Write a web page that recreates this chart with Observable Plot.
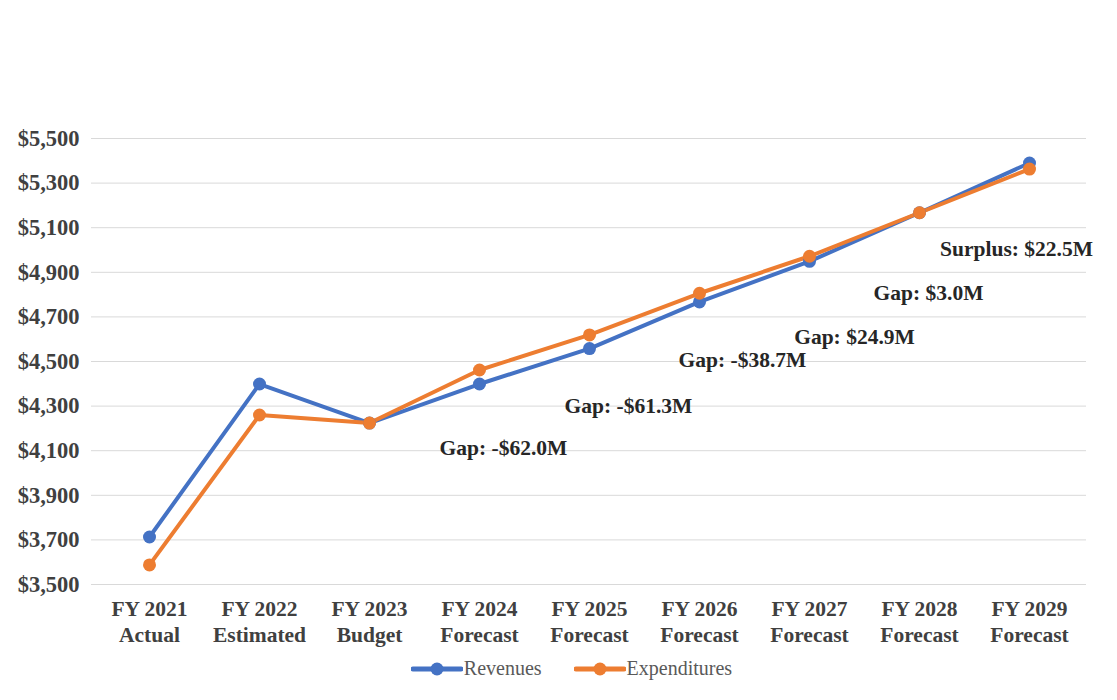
<!DOCTYPE html>
<html>
<head>
<meta charset="utf-8">
<script src="https://cdn.jsdelivr.net/npm/d3@7"></script>
<script src="https://cdn.jsdelivr.net/npm/@observablehq/plot@0.6"></script>
<style>
  body { margin: 0; background: #fff; }
  #wrap { position: relative; width: 1117px; height: 700px; overflow: hidden; }
  #legend { position: absolute; top: 657px; left: 0; width: 1117px; display: flex; justify-content: center; align-items: center; gap: 32px;
            font-family: "Liberation Serif", "Times New Roman", serif; font-size: 20px; color: #595959; padding-left: 26px; box-sizing: border-box; }
  .item { display: flex; align-items: center; }
  .item svg { margin-right: 1px; }
</style>
</head>
<body>
<div id="wrap">
  <div id="chart"></div>
  <div id="legend"></div>
</div>
<script>
const categories = ["FY 2021", "FY 2022", "FY 2023", "FY 2024", "FY 2025", "FY 2026", "FY 2027", "FY 2028", "FY 2029"];
const subLabels = ["Actual", "Estimated", "Budget", "Forecast", "Forecast", "Forecast", "Forecast", "Forecast", "Forecast"];
const revenues = [3713, 4399, 4224, 4399, 4558, 4767, 4949, 5167, 5390];
const expenditures = [3588, 4260, 4224, 4462, 4619, 4806, 4972, 5167, 5363];
const seriesNames = ["Revenues", "Expenditures"];
const seriesColors = ["#4472c4", "#ed7d31"];
const yTicks = [3500, 3700, 3900, 4100, 4300, 4500, 4700, 4900, 5100, 5300, 5500];
const gapTexts = ["Gap: -$62.0M", "Gap: -$61.3M", "Gap: -$38.7M", "Gap: $24.9M", "Gap: $3.0M", "Surplus: $22.5M"];
const gapCategories = ["FY 2024", "FY 2025", "FY 2026", "FY 2027", "FY 2028", "FY 2029"];
const gapLevels = [4113, 4300, 4504, 4608, 4808, 5006];
const gapShift = [24, 39, 43, 45, 9, -13];

const font = '"Liberation Serif", "Times New Roman", serif';
const rows = [];
categories.forEach((c, i) => {
  rows.push({cat: c, series: seriesNames[0], value: revenues[i]});
  rows.push({cat: c, series: seriesNames[1], value: expenditures[i]});
});
const sub = new Map(categories.map((c, i) => [c, subLabels[i]]));
const gaps = gapTexts.map((t, i) => ({text: t, cat: gapCategories[i], value: gapLevels[i], shift: gapShift[i]}));

const chart = Plot.plot({
  width: 1117,
  height: 650,
  marginTop: 138,
  marginBottom: 66,
  marginLeft: 91,
  marginRight: 31,
  style: {fontFamily: font, background: "transparent"},
  x: {type: "point", domain: categories, padding: 0.5},
  y: {domain: [3500, 5500]},
  color: {domain: seriesNames, range: seriesColors},
  marks: [
    Plot.gridY(yTicks, {stroke: "#d9d9d9", strokeOpacity: 1, strokeWidth: 1}),
    Plot.axisY(yTicks, {tickSize: 0, tickPadding: 12, tickFormat: d => "$" + d3.format(",")(d),
      fontSize: 22.5, fontWeight: "bold", fill: "#404040", label: null}),
    Plot.axisX({tickSize: 0, tickPadding: 13, tickFormat: d => d + "\n" + sub.get(d),
      fontSize: 21.5, fontWeight: "bold", fill: "#404040", lineHeight: 1.22, label: null}),
    Plot.line(rows, {x: "cat", y: "value", z: "series", stroke: "series", strokeWidth: 4, strokeLinejoin: "round"}),
    Plot.dot(rows, {x: "cat", y: "value", fill: "series", r: 6.5, stroke: "none"}),
    ...gaps.map(g => Plot.text([g], {x: "cat", y: "value", text: "text", dx: g.shift,
      fontSize: 21.5, fontWeight: "bold", fill: "#262626", fontFamily: font}))
  ]
});
document.getElementById("chart").appendChild(chart);

const legend = document.getElementById("legend");
seriesNames.forEach((name, i) => {
  const item = document.createElement("div");
  item.className = "item";
  item.innerHTML = `<svg width="52" height="16"><line x1="2" x2="50" y1="8" y2="8" stroke="${seriesColors[i]}" stroke-width="5" stroke-linecap="round"/><circle cx="26" cy="8" r="6.5" fill="${seriesColors[i]}"/></svg><span>${name}</span>`;
  legend.appendChild(item);
});
</script>
</body>
</html>
